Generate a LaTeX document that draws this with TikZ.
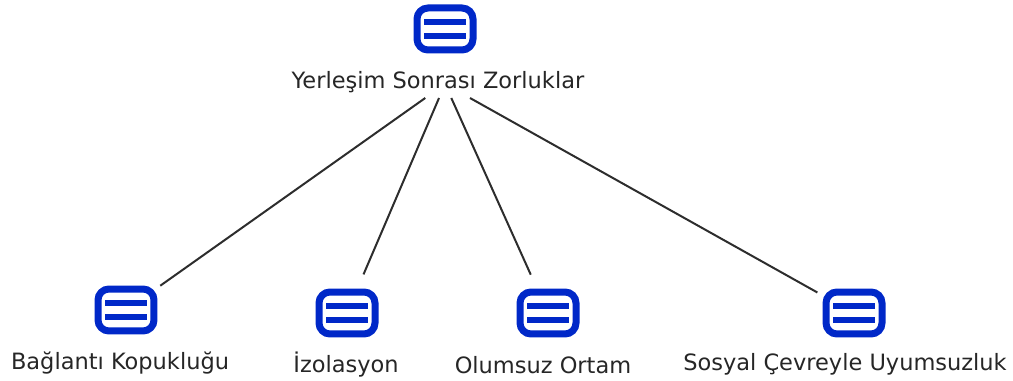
\documentclass[tikz,border=0pt]{standalone}
\usepackage{fontspec}
\setmainfont{DejaVu Sans}
\definecolor{iconblue}{RGB}{0,40,200}
\definecolor{linegray}{RGB}{45,45,45}
\tikzset{
  iconbox/.style={draw=iconblue, line width=0.14cm, rounded corners=0.22cm, minimum width=1.12cm, minimum height=0.84cm, inner sep=0pt, outer sep=0pt},
  iconbar/.style={draw=iconblue, line width=0.12cm},
  iconspot/.style={circle, minimum size=1.68cm, inner sep=0pt, outer sep=0pt},
  toparea/.style={minimum width=5.9cm, minimum height=0.56cm, inner sep=0pt, outer sep=0pt},
  itemlabel/.style={text=black!85, font=\fontsize{12.8}{15}\selectfont, inner sep=0pt},
  linkline/.style={draw=linegray, line width=0.04cm}
}
\begin{document}
\begin{tikzpicture}[x=0.02cm, y=-0.02cm]
    \useasboundingbox (0,0) rectangle (1013,381);
    % icons
    \foreach \name/\cx/\cy in {top/445/29, bag/126/310, izo/347/313, olu/548/313, sos/854/313} {
      \node[iconbox] (\name) at (\cx,\cy) {};
      \draw[iconbar] (\cx-21,\cy-7) -- (\cx+21,\cy-7);
      \draw[iconbar] (\cx-21,\cy+7) -- (\cx+21,\cy+7);
      \node[iconspot] (\name spot) at (\cx,\cy) {};
    }
    % labels
    \node[itemlabel] (toplabel) at (438,82) {Yerleşim Sonrası Zorluklar};
    \node[itemlabel] (baglabel) at (120,363) {Bağlantı Kopukluğu};
    \node[itemlabel] (izolabel) at (346,365) {İzolasyon};
    \node[itemlabel] (olulabel) at (543,365) {Olumsuz Ortam};
    \node[itemlabel] (soslabel) at (845,364) {Sosyal Çevreyle Uyumsuzluk};
    \node[toparea] (hub) at (445,84) {};
    % links
    \foreach \name in {bag, izo, olu, sos}
      \draw[linkline] (hub) -- (\name spot);
\end{tikzpicture}
\end{document}
